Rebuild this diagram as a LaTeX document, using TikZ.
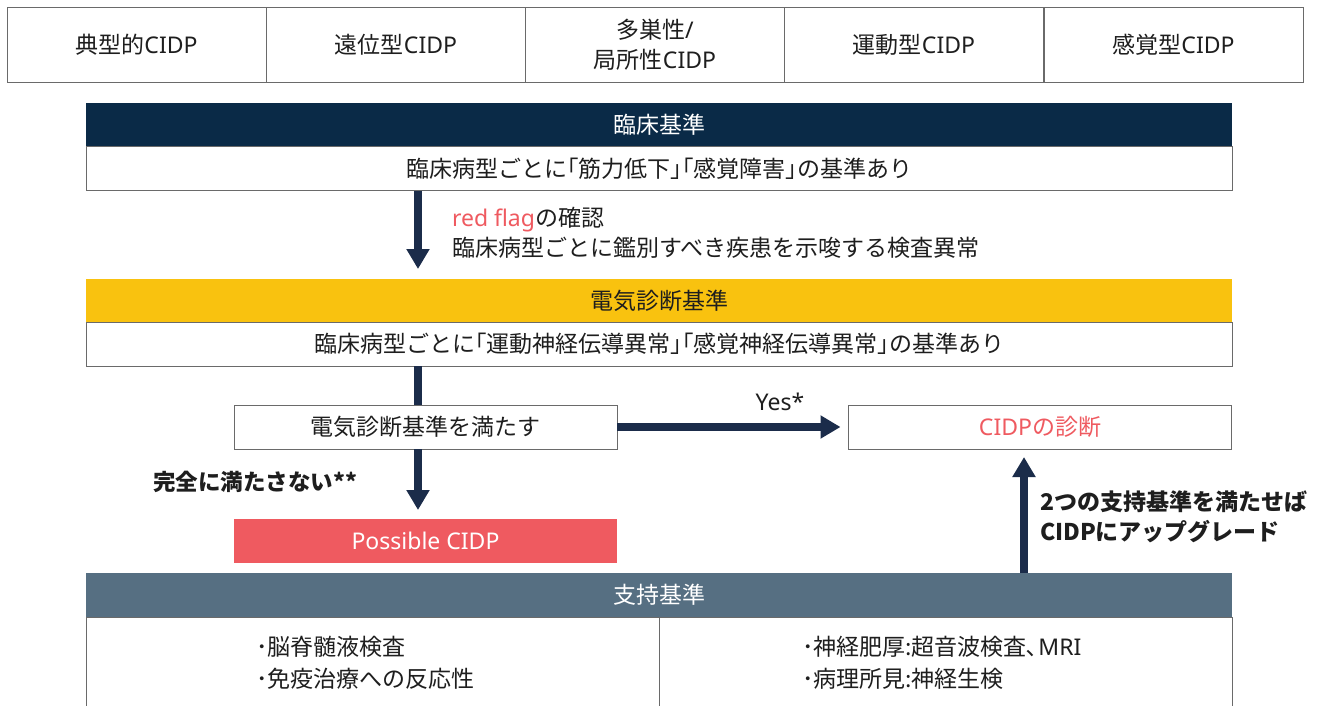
\documentclass[tikz,border=0pt]{standalone}
\usepackage{fontspec}
\setmainfont{Noto Sans CJK JP}
\newfontfamily\lt{Noto Sans}
\newcommand{\la}[1]{{\lt #1}}
\usetikzlibrary{arrows.meta}
\definecolor{navy}{HTML}{0A2A47}
\definecolor{arrowc}{HTML}{1B2C4A}
\definecolor{gold}{HTML}{F9C20F}
\definecolor{slate}{HTML}{566F82}
\definecolor{redc}{HTML}{EF5A60}
\definecolor{txt}{HTML}{1E1E1E}
\definecolor{edge}{HTML}{6A6A6A}
\begin{document}
\begin{tikzpicture}[x=1pt,y=-1pt,
  font=\fontsize{23}{30}\selectfont, text=txt,
  cell/.style={draw=edge,line width=1pt,fill=white,minimum width=259pt,minimum height=75pt,inner sep=0pt,outer sep=0pt,align=center},
  head/.style={minimum width=1146pt,minimum height=44pt,inner sep=0pt,outer sep=0pt,text=white},
  bodybox/.style={draw=edge,line width=1pt,fill=white,minimum width=1146pt,minimum height=44pt,inner sep=0pt,outer sep=0pt},
  midbox/.style={draw=edge,line width=1pt,fill=white,minimum width=383pt,minimum height=44pt,inner sep=0pt,outer sep=0pt},
  arr/.style={draw=arrowc,line width=8pt,-{Triangle[width=22pt,length=20pt]}},
  shaft/.style={draw=arrowc,line width=8pt},
  lbl/.style={inner sep=0pt,outer sep=0pt,align=left}]
\useasboundingbox (0,0) rectangle (1323,705);
\fill[white] (0,0) rectangle (1323,705);
% top row
\node[cell] (c1) at (136.5,44.5) {典型的\la{CIDP}};
\node[cell] (c2) at (396,44.5) {遠位型\la{CIDP}};
\node[cell] (c3) at (655,44.5) {多巣性\la{/}\\局所性\la{CIDP}};
\node[cell] (c4) at (914,44.5) {運動型\la{CIDP}};
\node[cell] (c5) at (1173.5,44.5) {感覚型\la{CIDP}};
% clinical
\node[head,fill=navy] (clinhead) at (659,124.5) {臨床基準};
\node[bodybox] (clinbody) at (659,168.5) {臨床病型ごとに｢筋力低下｣｢感覚障害｣の基準あり};
% electro
\node[head,fill=gold,text=txt] (elhead) at (659,301) {電気診断基準};
\node[bodybox] (elbody) at (659,344) {臨床病型ごとに｢運動神経伝導異常｣｢感覚神経伝導異常｣の基準あり};
% middle
\node[midbox] (meet) at (425.5,427) {電気診断基準を満たす};
\node[midbox] (cidp) at (1040,427) {\textcolor{redc}{\la{CIDP}の診断}};
\node[midbox,draw=none,fill=redc,text=white] (poss) at (425.5,541) {\la{Possible CIDP}};
% support
\node[head,fill=slate] (suphead) at (659,595) {支持基準};
\node[bodybox,minimum height=98pt] (supbody) at (659,666) {};
\draw[edge,line width=1pt] (supbody.north) -- (supbody.south);
\node[lbl,anchor=west,font=\fontsize{23}{32}\selectfont] (supl) at (256,663) {･脳脊髄液検査\\･免疫治療への反応性};
\node[lbl,anchor=west,font=\fontsize{23}{32}\selectfont] (supr) at (802,663) {･神経肥厚:超音波検査､\la{MRI}\\･病理所見:神経生検};
% labels
\node[lbl,anchor=west] (rf) at (452,233) {\textcolor{redc}{\la{red flag}}の確認\\臨床病型ごとに鑑別すべき疾患を示唆する検査異常};
\node[lbl] (yes) at (780,402) {\la{Yes*}};
\node[lbl,anchor=east,font=\fontsize{22.5}{30}\selectfont\bfseries] (no) at (357,482) {完全に満たさない**};
\node[lbl,anchor=west,font=\fontsize{23}{30}\selectfont\bfseries] (up) at (1040,517) {2つの支持基準を満たせば\\CIDPにアップグレード};
% connectors
\coordinate (ax) at (418,0);
\coordinate (bx) at (1024,0);
\draw[arr,shorten >=10pt] (clinbody.south -| ax) -- (elhead.north -| ax);
\draw[shaft] (elbody.south -| ax) -- (meet.north -| ax);
\draw[arr,shorten >=9pt] (meet.south -| ax) -- (poss.north -| ax);
\draw[arr,shorten >=8pt] (meet.east) -- (cidp.west);
\draw[arr,shorten >=8pt] (suphead.north -| bx) -- (cidp.south -| bx);
\end{tikzpicture}
\end{document}
